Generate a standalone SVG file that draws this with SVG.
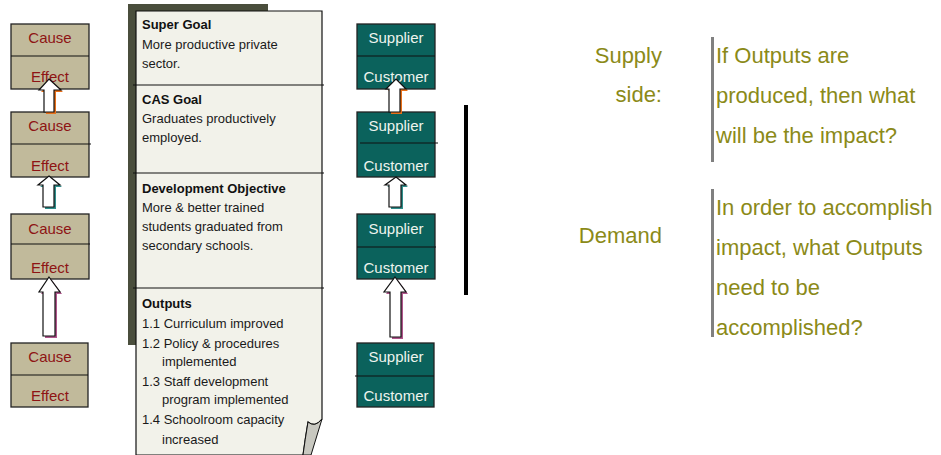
<svg xmlns="http://www.w3.org/2000/svg" width="941" height="455" viewBox="0 0 941 455">
<defs>
<style>
.ce{fill:#c1ba9b;stroke:#222;stroke-width:1.3}
.ct{font-family:"Liberation Sans",Arial,sans-serif;font-size:15px;fill:#8e1414;text-anchor:middle}
.sc{fill:#0b625c;stroke:#222;stroke-width:1.3}
.st{font-family:"Liberation Sans",Arial,sans-serif;font-size:15px;fill:#eef4ee;text-anchor:middle}
.dv{stroke:#111;stroke-width:1.2}
.arr{fill:#fff;stroke:#111;stroke-width:1.2;stroke-linejoin:miter}
.dt{font-family:"Liberation Sans",Arial,sans-serif;font-size:13px;fill:#1a1a1a}
.dh{font-family:"Liberation Sans",Arial,sans-serif;font-size:13px;font-weight:bold;fill:#111}
.rt{font-family:"Liberation Sans",Arial,sans-serif;font-size:22px;fill:#8b8a18}
.bar{fill:#808080}
</style>
<clipPath id="clipD"><rect x="700" y="185" width="241" height="153"/></clipPath>
</defs>
<rect width="941" height="455" fill="#fff"/>

<!-- Cause / Effect column -->
<g id="ce1">
<rect class="ce" x="11" y="24" width="78" height="65"/>
<line class="dv" x1="11" y1="56" x2="89" y2="56"/>
<text class="ct" x="50" y="43">Cause</text>
<text class="ct" x="50" y="82">Effect</text>
</g>
<g id="ce2">
<rect class="ce" x="11" y="112" width="78" height="65"/>
<line class="dv" x1="11" y1="144" x2="91" y2="144"/>
<text class="ct" x="50" y="131">Cause</text>
<text class="ct" x="50" y="171">Effect</text>
</g>
<g id="ce3">
<rect class="ce" x="11" y="214" width="78" height="65"/>
<line class="dv" x1="11" y1="244" x2="90" y2="244"/>
<text class="ct" x="50" y="234">Cause</text>
<text class="ct" x="50" y="273">Effect</text>
</g>
<g id="ce4">
<rect class="ce" x="11" y="343" width="77" height="64"/>
<line class="dv" x1="11" y1="375" x2="88" y2="375"/>
<text class="ct" x="50" y="362">Cause</text>
<text class="ct" x="50" y="401">Effect</text>
</g>

<!-- Supplier / Customer column -->
<g id="sc1">
<rect class="sc" x="357" y="24" width="78" height="65"/>
<line class="dv" x1="357" y1="56" x2="435" y2="56"/>
<text class="st" x="396" y="43">Supplier</text>
<text class="st" x="396" y="82">Customer</text>
</g>
<g id="sc2">
<rect class="sc" x="357" y="112" width="78" height="65"/>
<line class="dv" x1="360" y1="143" x2="438" y2="143"/>
<text class="st" x="396" y="131">Supplier</text>
<text class="st" x="396" y="171">Customer</text>
</g>
<g id="sc3">
<rect class="sc" x="357" y="214" width="78" height="65"/>
<line class="dv" x1="357" y1="247" x2="436" y2="247"/>
<text class="st" x="396" y="234">Supplier</text>
<text class="st" x="396" y="273">Customer</text>
</g>
<g id="sc4">
<rect class="sc" x="357" y="343" width="77" height="64"/>
<line class="dv" x1="355" y1="376" x2="434" y2="376"/>
<text class="st" x="396" y="362">Supplier</text>
<text class="st" x="396" y="401">Customer</text>
</g>

<!-- Document / logframe -->
<g id="doc">
<rect x="128" y="4" width="140" height="341" fill="#4a4e3c"/>
<path d="M136,11 H322 V419 Q315,428 308,422 Q305,440 303,455 H136 Z" fill="#f2f2ea" stroke="#111" stroke-width="1.2"/>
<path d="M308,422 Q315,428 322,419 L311,455 L303,455 Q305,440 308,422 Z" fill="#c8c8c0" stroke="#111" stroke-width="1"/>
<line class="dv" x1="133" y1="85" x2="324" y2="85"/>
<line class="dv" x1="133" y1="173" x2="324" y2="173"/>
<line class="dv" x1="133" y1="288" x2="324" y2="288"/>
<text class="dh" x="142" y="29">Super Goal</text>
<text class="dt" x="142" y="49">More productive private</text>
<text class="dt" x="142" y="68">sector.</text>
<text class="dh" x="142" y="104">CAS Goal</text>
<text class="dt" x="142" y="123">Graduates productively</text>
<text class="dt" x="142" y="142">employed.</text>
<text class="dh" x="142" y="193">Development Objective</text>
<text class="dt" x="142" y="212">More &amp; better trained</text>
<text class="dt" x="142" y="231">students graduated from</text>
<text class="dt" x="142" y="250">secondary schools.</text>
<text class="dh" x="142" y="308">Outputs</text>
<text class="dt" x="142" y="328">1.1 Curriculum improved</text>
<text class="dt" x="142" y="348">1.2 Policy &amp; procedures</text>
<text class="dt" x="162" y="366">implemented</text>
<text class="dt" x="142" y="386">1.3 Staff development</text>
<text class="dt" x="162" y="404">program implemented</text>
<text class="dt" x="142" y="424">1.4 Schoolroom capacity</text>
<text class="dt" x="162" y="444">increased</text>
</g>

<!-- Connectors (block arrows) -->
<g id="connectors">
<polygon points="51,81 63,92 56,92 56,114 46,114 46,92 41,92" fill="#e8701a"/>
<polygon class="arr" points="49,79 61,90 54,90 54,112 44,112 44,90 39,90"/>
<polygon points="51,178 62,187 56,187 56,209 45,209 45,187 40,187" fill="#2f8f8c"/>
<polygon class="arr" points="49,176 60,185 54,185 54,207 43,207 43,185 38,185"/>
<polygon points="51,279 62,294 57,294 57,338 45,338 45,294 41,294" fill="#b0558c"/>
<polygon class="arr" points="49,277 60,292 55,292 55,336 43,336 43,292 39,292"/>

<polygon points="398,81 408,91 402,91 402,114 391,114 391,91 388,91" fill="#e8701a"/>
<polygon class="arr" points="396,79 406,89 400,89 400,112 389,112 389,89 386,89"/>
<polygon points="398,179 408,187 403,187 403,209 391,209 391,187 387,187" fill="#2f8f8c"/>
<polygon class="arr" points="396,177 406,185 401,185 401,207 389,207 389,185 385,185"/>
<polygon points="397,279 408,294 403,294 403,339 392,339 392,294 386,294" fill="#b0558c"/>
<polygon class="arr" points="395,277 406,292 401,292 401,337 390,337 390,292 384,292"/>
</g>

<!-- Divider bar -->
<g id="divider">
<rect x="464" y="105" width="4" height="190" fill="#000"/>
</g>

<!-- Supply side -->
<g id="supply">
<text class="rt" x="662" y="63" text-anchor="end">Supply</text>
<text class="rt" x="662" y="102" text-anchor="end">side:</text>
<rect class="bar" x="711" y="37" width="3" height="125"/>
<text class="rt" x="716" y="63">If Outputs are</text>
<text class="rt" x="716" y="103">produced, then what</text>
<text class="rt" x="716" y="143">will be the impact?</text>
</g>

<!-- Demand side -->
<g id="demand">
<text class="rt" x="662" y="243" text-anchor="end">Demand</text>
<rect class="bar" x="711" y="189" width="3" height="148"/>
<g clip-path="url(#clipD)">
<text class="rt" x="716" y="215">In order to accomplish</text>
<text class="rt" x="716" y="255">impact, what Outputs</text>
<text class="rt" x="716" y="295">need to be</text>
<text class="rt" x="716" y="335">accomplished?</text>
</g>
</g>
</svg>
